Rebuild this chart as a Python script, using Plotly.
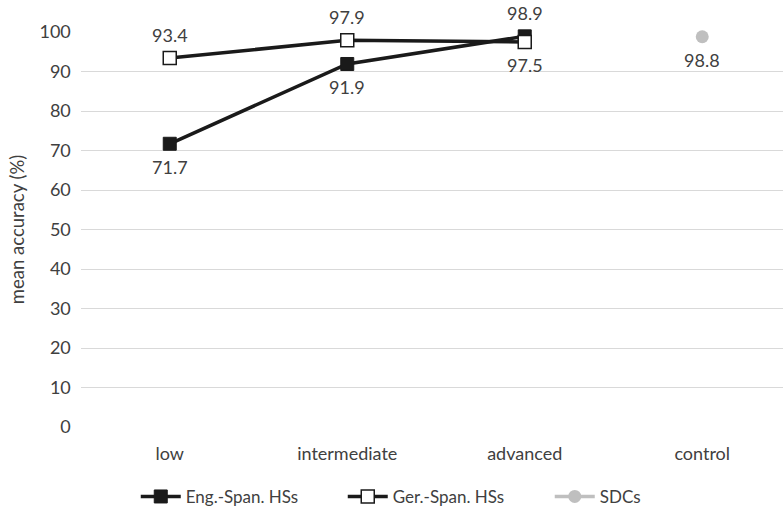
import plotly.graph_objects as go

categories = ["low", "intermediate", "advanced", "control"]
eng_span = [71.7, 91.9, 98.9, None]
ger_span = [93.4, 97.9, 97.5, None]
sdc = [None, None, None, 98.8]

# label placement: +1 above the marker, -1 below
eng_side = [-1, -1, 1, 0]
ger_side = [1, 1, -1, 0]
sdc_side = [0, 0, 0, -1]

font_family = "Lato, 'Open Sans', sans-serif"
text_color = "#404040"
label_size = 18

fig = go.Figure()
fig.add_trace(go.Scatter(
    x=categories, y=eng_span, name="Eng.-Span. HSs", mode="lines+markers",
    line=dict(color="#1a1a1a", width=3.5),
    marker=dict(symbol="square", size=13, color="#1a1a1a",
                line=dict(color="#1a1a1a", width=1)),
    cliponaxis=False,
))
fig.add_trace(go.Scatter(
    x=categories, y=ger_span, name="Ger.-Span. HSs", mode="lines+markers",
    line=dict(color="#1a1a1a", width=3.5),
    marker=dict(symbol="square", size=13, color="white",
                line=dict(color="#1a1a1a", width=1.5)),
    cliponaxis=False,
))
fig.add_trace(go.Scatter(
    x=categories, y=sdc, name="SDCs", mode="lines+markers",
    line=dict(color="#bfbfbf", width=3.5),
    marker=dict(symbol="circle", size=13, color="#bfbfbf"),
    cliponaxis=False,
))

for vals, sides in ((eng_span, eng_side), (ger_span, ger_side), (sdc, sdc_side)):
    for cat, v, s in zip(categories, vals, sides):
        if v is None:
            continue
        fig.add_annotation(
            x=cat, y=v, text=f"{v:.1f}", showarrow=False,
            yshift=23 * s, yanchor="middle", xanchor="center",
            font=dict(size=label_size, color=text_color, family=font_family),
        )

fig.update_layout(
    width=783, height=515,
    margin=dict(l=81, r=0, t=32, b=88),
    paper_bgcolor="white", plot_bgcolor="white",
    font=dict(family=font_family, size=18, color=text_color),
    showlegend=True,
    legend=dict(orientation="h", x=0.078, xanchor="left", y=-0.177,
                yanchor="middle", font=dict(size=17, color=text_color),
                itemwidth=40, tracegroupgap=0,
                entrywidth=152, entrywidthmode="pixels"),
    xaxis=dict(type="category", range=[-0.5, 3.455], showgrid=False,
               zeroline=False, showline=False, ticks="",
               ticklabelstandoff=14,
               tickfont=dict(size=18, color=text_color)),
    yaxis=dict(range=[0, 100], dtick=10, showgrid=True, gridcolor="#d9d9d9",
               gridwidth=1, zeroline=False, showline=False, ticks="",
               ticksuffix="  ",
               tickfont=dict(size=18, color=text_color),
               title=dict(text="mean accuracy (%)", standoff=9,
                          font=dict(size=18.5, color=text_color))),
)

fig.write_html("out.html")
